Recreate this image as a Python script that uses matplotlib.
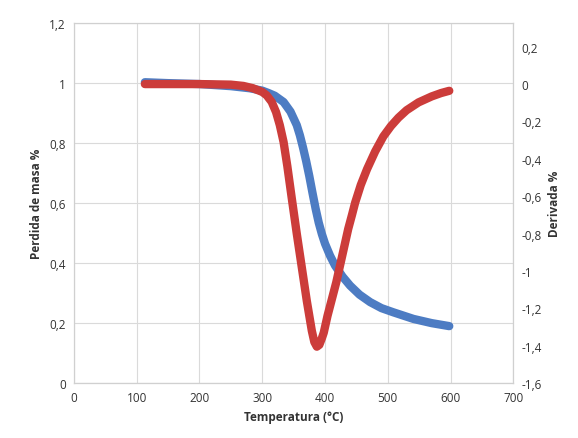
import matplotlib.pyplot as plt

# datos
temp_masa = [113, 150, 200, 250, 280, 300, 310, 320, 334, 345, 355, 360, 365, 370,
             375, 380, 385, 390, 395, 400, 408, 416, 428, 440, 455, 472, 490, 509,
             541, 570, 598]
masa = [1.003, 1.0, 0.997, 0.99, 0.983, 0.975, 0.967, 0.958, 0.937, 0.905, 0.86,
        0.826, 0.785, 0.74, 0.69, 0.635, 0.582, 0.535, 0.497, 0.465, 0.425, 0.392,
        0.355, 0.325, 0.295, 0.27, 0.25, 0.236, 0.214, 0.2, 0.19]

temp_deriv = [113, 200, 250, 270, 285, 300, 307, 315, 322, 328, 334, 340, 347, 355,
              363, 371, 379, 383, 387, 391, 395, 398, 404, 411, 418, 424, 430, 437,
              443, 448, 457, 467, 480, 493, 505, 517, 530, 549, 570, 585, 598]
deriv = [0.0, 0.0, -0.003, -0.01, -0.022, -0.042, -0.06, -0.095, -0.15, -0.22, -0.31,
         -0.44, -0.61, -0.8, -0.98, -1.16, -1.32, -1.38, -1.405, -1.395, -1.36,
         -1.33, -1.24, -1.15, -1.06, -0.97, -0.88, -0.775, -0.7, -0.635, -0.54,
         -0.455, -0.36, -0.28, -0.225, -0.18, -0.14, -0.098, -0.066, -0.048, -0.036]

x_ticks = [0, 100, 200, 300, 400, 500, 600, 700]
left_ticks = [0, 0.2, 0.4, 0.6, 0.8, 1.0, 1.2]
right_ticks = [-1.6, -1.4, -1.2, -1.0, -0.8, -0.6, -0.4, -0.2, 0.0, 0.2]

plt.rcParams['font.family'] = ['Open Sans', 'DejaVu Sans']


def etiqueta(v):
    s = ('%.1f' % v).rstrip('0').rstrip('.')
    if s == '-0':
        s = '0'
    return s.replace('.', ',')


fig = plt.figure(figsize=(5.78, 4.39), dpi=100)
ax = fig.add_axes([0.128, 0.125, 0.76, 0.82])
ax2 = ax.twinx()

ax.plot(temp_masa, masa, color='#4D7CC3', lw=6, solid_capstyle='round',
        solid_joinstyle='round', zorder=3)
ax2.plot(temp_deriv, deriv, color='#CC3C3A', lw=6, solid_capstyle='round',
         solid_joinstyle='round', zorder=3)

ax.set_xlim(0, 700)
ax.set_ylim(0, 1.2)
ax2.set_ylim(-1.6, 0.326)

ax.set_xticks(x_ticks)
ax.set_xticklabels([str(t) for t in x_ticks])
ax.set_yticks(left_ticks)
ax.set_yticklabels([etiqueta(t) for t in left_ticks])
ax2.set_yticks(right_ticks)
ax2.set_yticklabels([etiqueta(t) for t in right_ticks])

ax.grid(True, color='#dadada', lw=0.8)
ax.set_axisbelow(True)

for a in (ax, ax2):
    for s in a.spines.values():
        s.set_color('#d0d0d0')
    a.tick_params(length=0, labelsize=8.5, colors='#333333', pad=6)
ax.spines['bottom'].set_color('#bbbbbb')

ax.set_xlabel('Temperatura (°C)', fontsize=8.5, fontweight='bold', color='#333333')
ax.set_ylabel('Perdida de masa %', fontsize=8.5, fontweight='bold', color='#333333')
ax2.set_ylabel('Derivada %', fontsize=8.5, fontweight='bold', color='#333333')

fig.savefig('out.png', dpi=100)
